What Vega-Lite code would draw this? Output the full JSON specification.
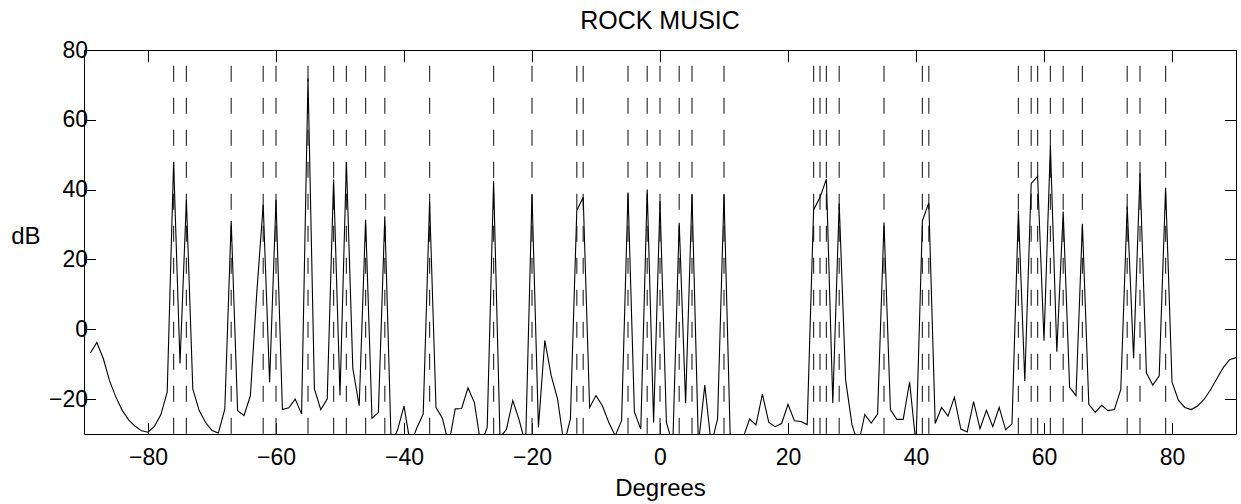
{
"$schema":"https://vega.github.io/schema/vega-lite/v6.json",
"autosize":{"type":"none"},
"padding":{"left":84,"top":50,"right":5,"bottom":70},
"width":1152,
"height":384,
"title":{"text":"ROCK MUSIC","fontSize":25,"font":"Liberation Sans","fontWeight":"normal","color":"black","offset":5},
"config":{"view":{"stroke":"black","strokeWidth":1},"axis":{"grid":false,"domain":false,"tickColor":"black","tickWidth":1,"tickSize":-11.5,"labelFont":"Liberation Sans","labelFontSize":23,"labelColor":"black","titleFont":"Liberation Sans","titleFontSize":24,"titleFontWeight":"normal","titleColor":"black"}},
"datasets":{
"sources":[{"d":-76},{"d":-74},{"d":-67},{"d":-62},{"d":-60},{"d":-55},{"d":-51},{"d":-49},{"d":-46},{"d":-43},{"d":-36},{"d":-26},{"d":-20},{"d":-13},{"d":-12},{"d":-5},{"d":-2},{"d":0},{"d":3},{"d":5},{"d":10},{"d":24},{"d":25},{"d":26},{"d":28},{"d":35},{"d":41},{"d":42},{"d":56},{"d":58},{"d":59},{"d":61},{"d":63},{"d":66},{"d":73},{"d":75},{"d":79}],
"spectrum":[
{"d":-89,"v":-6.8},{"d":-88,"v":-3.8},{"d":-87,"v":-8.3},{"d":-86,"v":-14.8},{"d":-85,"v":-19.5},{"d":-84,"v":-23.3},{"d":-83,"v":-26},{"d":-82,"v":-27.8},{"d":-81,"v":-29.1},{"d":-80,"v":-29.5},
{"d":-79,"v":-27.8},{"d":-78,"v":-24.5},{"d":-77,"v":-18},{"d":-76,"v":47.9},{"d":-75,"v":-9.8},{"d":-74,"v":37.1},{"d":-73,"v":-17.1},{"d":-72,"v":-23.3},{"d":-71,"v":-26.7},{"d":-70,"v":-29},
{"d":-69,"v":-29.7},{"d":-68,"v":-22.9},{"d":-67,"v":31},{"d":-66,"v":-23.3},{"d":-65,"v":-24.7},{"d":-64,"v":-19},{"d":-63,"v":10.5},{"d":-62,"v":35.7},{"d":-61,"v":-15.2},{"d":-60,"v":37.1},
{"d":-59,"v":-23},{"d":-58,"v":-22.5},{"d":-57,"v":-20},{"d":-56,"v":-24.3},{"d":-55,"v":71.9},{"d":-54,"v":-17.1},{"d":-53,"v":-23},{"d":-52,"v":-20},{"d":-51,"v":42.9},{"d":-50,"v":-19},
{"d":-49,"v":47.9},{"d":-48,"v":-11.2},{"d":-47,"v":-21.9},{"d":-46,"v":31.4},{"d":-45,"v":-25.5},{"d":-44,"v":-23.8},{"d":-43,"v":32.4},{"d":-42,"v":-33},{"d":-41,"v":-28.8},{"d":-40,"v":-22},
{"d":-39,"v":-33},{"d":-38,"v":-28.3},{"d":-37,"v":-24.3},{"d":-36,"v":36.5},{"d":-35,"v":-22.4},{"d":-34,"v":-25.5},{"d":-33,"v":-33},{"d":-32,"v":-22.8},{"d":-31,"v":-22.7},{"d":-30,"v":-16.8},
{"d":-29,"v":-21},{"d":-28,"v":-33},{"d":-27,"v":-28.1},{"d":-26,"v":42.4},{"d":-25,"v":-31},{"d":-24,"v":-28.7},{"d":-23,"v":-20.4},{"d":-22,"v":-26},{"d":-21,"v":-33},{"d":-20,"v":38.6},
{"d":-19,"v":-28.1},{"d":-18,"v":-3.2},{"d":-17,"v":-13.3},{"d":-16,"v":-20},{"d":-15,"v":-33},{"d":-14,"v":-25.7},{"d":-13,"v":34},{"d":-12,"v":37.8},{"d":-11,"v":-22.4},{"d":-10,"v":-19},
{"d":-9,"v":-21.9},{"d":-8,"v":-26.7},{"d":-7,"v":-30.5},{"d":-6,"v":-26.2},{"d":-5,"v":39.2},{"d":-4,"v":-23.7},{"d":-3,"v":-28.6},{"d":-2,"v":40},{"d":-1,"v":-26.7},{"d":0,"v":36.7},
{"d":1,"v":-26.7},{"d":2,"v":-33},{"d":3,"v":30.5},{"d":4,"v":-21.2},{"d":5,"v":38.6},{"d":6,"v":-33},{"d":7,"v":-16},{"d":8,"v":-33},{"d":9,"v":-25.7},{"d":10,"v":38.6},
{"d":11,"v":-33},{"d":12,"v":-35},{"d":13,"v":-31},{"d":14,"v":-25.7},{"d":15,"v":-27.4},{"d":16,"v":-18.6},{"d":17,"v":-26.7},{"d":18,"v":-27.9},{"d":19,"v":-27},{"d":20,"v":-21.5},
{"d":21,"v":-26.2},{"d":22,"v":-26.4},{"d":23,"v":-27.3},{"d":24,"v":34.2},{"d":25,"v":37.8},{"d":26,"v":43},{"d":27,"v":-21.1},{"d":28,"v":36},{"d":29,"v":-14.5},{"d":30,"v":-27.4},
{"d":31,"v":-33},{"d":32,"v":-24.4},{"d":33,"v":-26.9},{"d":34,"v":-24.3},{"d":35,"v":30.6},{"d":36,"v":-23},{"d":37,"v":-25.8},{"d":38,"v":-25.8},{"d":39,"v":-15.1},{"d":40,"v":-33},
{"d":41,"v":31.1},{"d":42,"v":36.2},{"d":43,"v":-27},{"d":44,"v":-22.4},{"d":45,"v":-24.9},{"d":46,"v":-19.5},{"d":47,"v":-28.6},{"d":48,"v":-29.4},{"d":49,"v":-20.7},{"d":50,"v":-28.5},
{"d":51,"v":-23.2},{"d":52,"v":-27.9},{"d":53,"v":-22.4},{"d":54,"v":-28.8},{"d":55,"v":-27.1},{"d":56,"v":34},{"d":57,"v":-14.8},{"d":58,"v":41.8},{"d":59,"v":43.8},{"d":60,"v":-3.3},
{"d":61,"v":52.7},{"d":62,"v":-6.4},{"d":63,"v":33.7},{"d":64,"v":-16.6},{"d":65,"v":-19},{"d":66,"v":30.2},{"d":67,"v":-21.5},{"d":68,"v":-23.8},{"d":69,"v":-21.8},{"d":70,"v":-23.3},
{"d":71,"v":-23},{"d":72,"v":-17.2},{"d":73,"v":35.2},{"d":74,"v":-8.3},{"d":75,"v":44.7},{"d":76,"v":-12.5},{"d":77,"v":-16},{"d":78,"v":-13.3},{"d":79,"v":40.5},{"d":80,"v":-15.1},
{"d":81,"v":-20.3},{"d":82,"v":-22.4},{"d":83,"v":-23},{"d":84,"v":-22},{"d":85,"v":-20.1},{"d":86,"v":-17.4},{"d":87,"v":-14.2},{"d":88,"v":-11},{"d":89,"v":-8.7},{"d":90,"v":-8.1}
]},
"layer":[
{"data":{"name":"sources"},
 "mark":{"type":"rule","strokeDash":[16,16],"color":"#333333","strokeWidth":1.2},
 "encoding":{
  "x":{"field":"d","type":"quantitative","scale":{"domain":[-90,90],"nice":false,"zero":false},"axis":{"orient":"top","values":[-80,-60,-40,-20,0,20,40,60,80],"labels":false,"title":null}},
  "y":{"datum":75.5,"type":"quantitative","scale":{"domain":[-30,80],"nice":false,"zero":false},"axis":{"orient":"right","values":[-20,0,20,40,60,80],"labels":false,"title":null}},
  "y2":{"datum":-30}}},
{"data":{"name":"spectrum"},
 "mark":{"type":"line","color":"black","strokeWidth":1.1,"clip":true},
 "encoding":{
  "x":{"field":"d","type":"quantitative","scale":{"domain":[-90,90],"nice":false,"zero":false},"axis":{"orient":"bottom","values":[-80,-60,-40,-20,0,20,40,60,80],"labelPadding":23.5,"title":"Degrees","titlePadding":7}},
  "y":{"field":"v","type":"quantitative","scale":{"domain":[-30,80],"nice":false,"zero":false},"axis":{"orient":"left","values":[-20,0,20,40,60,80],"labelPadding":8,"title":"dB","titleAngle":0,"titleAlign":"right","titleBaseline":"alphabetic","titleX":-44,"titleY":193}}}}
],
"resolve":{"axis":{"x":"independent","y":"independent"}}
}
